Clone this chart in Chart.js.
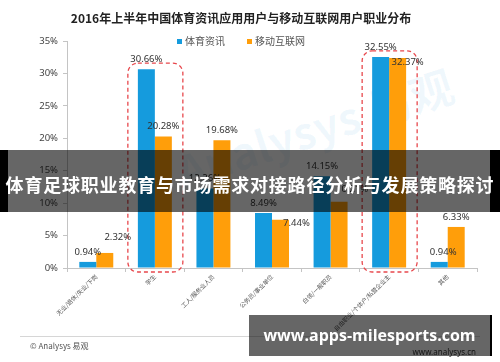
<!DOCTYPE html>
<html>
<head>
<meta charset="utf-8">
<script src="https://cdn.jsdelivr.net/npm/chart.js@4"></script>
<style>
body{margin:0;background:#fff;font-family:"Noto Sans CJK SC","Noto Sans",sans-serif;}
#wrap{position:relative;width:500px;height:362px;overflow:hidden;}
#chart{position:absolute;left:0;top:0;}
#bgmark{position:absolute;left:170px;top:95px;font:bold 44px "Noto Sans CJK SC",sans-serif;color:rgba(0,140,210,0.06);transform:rotate(-18deg);white-space:nowrap;}
#title{position:absolute;left:0;width:482px;top:9px;text-align:center;font:bold 12px "Noto Sans CJK SC",sans-serif;color:#222;}
#legend{position:absolute;left:177px;top:33px;font:10px "Noto Sans CJK SC",sans-serif;color:#555;}
#legend span.box{display:inline-block;width:5px;height:5px;margin-right:3px;vertical-align:1px;}
#legend span.item{margin-right:22px;}
#footline{position:absolute;left:20px;top:336px;width:460px;border-top:1px solid #d6d6d6;}
#copy{position:absolute;left:30px;top:340px;font:8px "Noto Sans CJK SC",sans-serif;color:#555;}
#site{position:absolute;right:24px;top:346px;font:8px "Noto Sans",sans-serif;color:#333;}
#banner{position:absolute;left:0;top:150px;width:500px;height:62px;background:rgba(0,0,0,0.6);}
#banner .edgeL{position:absolute;left:0;top:0;width:8px;height:62px;background:#000;}
#banner .edgeR{position:absolute;right:0;top:0;width:10px;height:62px;background:#000;}
#banner .txt{position:absolute;left:0;width:500px;top:21px;text-align:center;font:bold 18px "Noto Sans CJK SC",sans-serif;letter-spacing:0.8px;color:#fff;white-space:nowrap;}
#mark{position:absolute;left:249px;top:315px;width:241px;height:41px;background:rgba(0,0,0,0.6);border-right:2px solid #000;}
#mark div{text-align:center;font:bold 16px "Open Sans",sans-serif;color:#fff;line-height:40px;white-space:nowrap;}
</style>
</head>
<body>
<div id="wrap">
<div id="bgmark">Analysys 易观</div>
<canvas id="chart" width="500" height="362"></canvas>
<div id="title">2016年上半年中国体育资讯应用用户与移动互联网用户职业分布</div>
<div id="legend"></div>
<div id="footline"></div>
<div id="copy">© Analysys 易观</div>
<div id="site">www.analysys.cn</div>
<div id="banner"><div class="edgeL"></div><div class="edgeR"></div><div class="txt">体育足球职业教育与市场需求对接路径分析与发展策略探讨</div></div>
<div id="mark"><div>www.apps-milesports.com</div></div>
</div>
<script>
// data
const categories=["无业/退休/失业/下岗","学生","工人/服务业人员","公务员/事业单位","白领/一般职员","自由职业/个体户/私营企业主","其他"]
const seriesNames=["体育资讯","移动互联网"]
const sportsNews=[0.94,30.66,12.26,8.49,14.15,32.55,0.94]
const mobileNet=[2.32,20.28,19.68,7.44,10.21,32.37,6.33]
const yMax=35
const yStep=5
const highlighted=[1,5]

const colors=["#159BDD","#FF9E0A"]

// legend
let legendHTML=""
seriesNames.forEach((name,i)=>{
  legendHTML+=`<span class="item"><span class="box" style="background:${colors[i]}"></span>${name}</span>`
})
document.getElementById("legend").innerHTML=legendHTML

/* value labels, a few nudged like in the original */
const labelShift={"1-0":[13,-6],"1-3":[16,14],"1-4":[13,-2],"1-5":[10,14],"0-6":[4,0]}

const valueLabels={
  id:"valueLabels",
  afterDatasetsDraw(chart){
    const c=chart.ctx
    c.save()
    c.font="9.5px 'Noto Sans', sans-serif"
    c.fillStyle="#333"
    c.textAlign="center"
    c.textBaseline="middle"
    chart.data.datasets.forEach((ds,d)=>{
      chart.getDatasetMeta(d).data.forEach((bar,i)=>{
        let s=labelShift[d+"-"+i]||[0,0]
        c.fillText(ds.data[i].toFixed(2)+"%",bar.x+s[0],bar.y-10+s[1])
      })
    })
    c.restore()
  }
}

/* red dashed boxes round the two big groups */
const dashedBoxes={
  id:"dashedBoxes",
  afterDatasetsDraw(chart){
    const c=chart.ctx
    const x=chart.scales.x, y=chart.scales.y
    c.save()
    c.strokeStyle="#E8474C"
    c.lineWidth=1.3
    c.setLineDash([4,3])
    highlighted.forEach(i=>{
      let cx=x.getPixelForValue(i)
      let top=y.getPixelForValue(Math.max(sportsNews[i],mobileNet[i]))-6
      let bottom=chart.chartArea.bottom+4
      c.beginPath()
      c.roundRect(cx-27,top,55,bottom-top,10)
      c.stroke()
    })
    c.restore()
  }
}

new Chart(document.getElementById("chart"),{
  type:"bar",
  data:{
    labels:categories,
    datasets:[
      {label:seriesNames[0],data:sportsNews,backgroundColor:colors[0]},
      {label:seriesNames[1],data:mobileNet,backgroundColor:colors[1]}
    ]
  },
  options:{
    responsive:false,
    animation:false,
    layout:{padding:{left:37,right:23,top:41,bottom:24}},
    datasets:{bar:{categoryPercentage:0.58,barPercentage:1}},
    plugins:{legend:{display:false},title:{display:false},tooltip:{enabled:false}},
    scales:{
      x:{
        grid:{drawOnChartArea:false,drawTicks:true,tickLength:4,color:"#c4c4c4"},
        border:{color:"#c4c4c4"},
        ticks:{minRotation:45,maxRotation:45,padding:1,autoSkip:false,color:"#555",font:{size:6,family:"'Noto Sans CJK SC', sans-serif"}},
        afterFit(s){s.height=70}
      },
      y:{
        min:0,max:yMax,
        grid:{drawOnChartArea:false,drawTicks:true,tickLength:4,color:"#c4c4c4"},
        border:{color:"#c4c4c4"},
        ticks:{stepSize:yStep,padding:5,color:"#444",font:{size:9.5,family:"'Noto Sans', sans-serif"},callback:v=>v+"%"},
        afterFit(s){s.width=30}
      }
    }
  },
  plugins:[dashedBoxes,valueLabels]
})
</script>
</body>
</html>
